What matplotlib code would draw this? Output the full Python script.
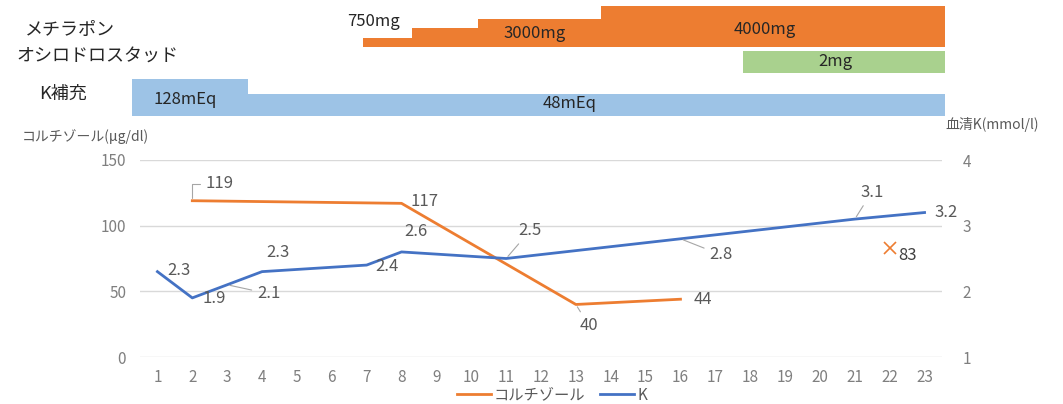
import matplotlib
matplotlib.use("Agg")
import matplotlib.pyplot as plt
import numpy as np

plt.rcParams['font.family'] = ['Noto Sans CJK JP', 'DejaVu Sans']

# --- data ---
days = list(range(1, 24))

cortisol_days = [2, 8, 13, 16]
cortisol_vals = [119, 117, 40, 44]
cortisol_extra_day = [22]
cortisol_extra_val = [83]

k_days = [1, 2, 3, 4, 7, 8, 11, 16, 21, 23]
k_vals = [2.3, 1.9, 2.1, 2.3, 2.4, 2.6, 2.5, 2.8, 3.1, 3.2]

# treatment timeline (day units), step levels are just bar heights
metyrapone_start = [6.9, 8.31, 10.18, 13.71]
metyrapone_end = 23.58
metyrapone_labels = ["750mg", "", "3000mg", "4000mg"]
osilodrostat_start = [17.78]
osilodrostat_end = 23.58
osilodrostat_labels = ["2mg"]
k_sup_start = [0.28, 3.61]
k_sup_end = 23.58
k_sup_labels = ["128mEq", "48mEq"]

ORANGE = '#ED7D31'
BLUE = '#4472C4'
GREEN = '#A9D18E'
LBLUE = '#9DC3E6'
TICK = '#7f7f7f'
LAB = '#595959'

W, H = 1063, 404
fig = plt.figure(figsize=(W / 100, H / 100), dpi=100)


def fx(px):
    return px / W


def fy(py):
    return 1 - py / H


def ftext(px, py, s, **kw):
    fig.text(fx(px), fy(py), s, **kw)


# main chart
ax = fig.add_axes([fx(140), fy(357), fx(942) - fx(140), fy(160) - fy(357)])
ax2 = ax.twinx()

ax.set_xlim(0.5, 23.5)
ax.set_ylim(0, 150)
ax2.set_ylim(1, 4)
ax.set_yticks([0, 50, 100, 150])
ax2.set_yticks([1, 2, 3, 4])
ax.set_xticks(days)
ax.grid(axis='y', color='#d9d9d9', lw=1)
ax.set_axisbelow(True)
for a in (ax, ax2):
    for sp in a.spines.values():
        sp.set_visible(False)
ax.tick_params(axis='both', length=0, labelsize=11, labelcolor=TICK)
ax.tick_params(axis='y', pad=10)
ax.tick_params(axis='x', pad=9)
ax2.tick_params(axis='y', length=0, labelsize=11, labelcolor=TICK, pad=12)
for t in ax2.get_yticklabels():
    t.set_horizontalalignment('center')
ax2.tick_params(axis='y', pad=18)

l1, = ax.plot(cortisol_days, cortisol_vals, color=ORANGE, lw=2, label='コルチゾール')
ax.plot(cortisol_extra_day, cortisol_extra_val, ls='none', marker='x',
        color=ORANGE, ms=8, mew=1.2)
l2, = ax2.plot(k_days, k_vals, color=BLUE, lw=2, label='K')

lead = dict(arrowstyle='-', color='#a6a6a6', lw=0.8, shrinkA=2, shrinkB=2)


def lab(a, x, y, s, dx, dy, ha='left', arrow=None, color=LAB):
    kw = {}
    if arrow is not None:
        kw['arrowprops'] = arrow
    a.annotate(s, xy=(x, y), xytext=(dx, dy), textcoords='offset pixels',
               ha=ha, va='center', fontsize=12, color=color, **kw)


# cortisol labels
c_off = [(13, 17, 'left'), (9, 2, 'left'), (13, -21, 'center'), (13, 0, 'left')]
c_arrow = [dict(lead, connectionstyle='angle,angleA=0,angleB=90,rad=0'), None,
           lead, None]
for d, v, (dx, dy, ha), ar in zip(cortisol_days, cortisol_vals, c_off, c_arrow):
    lab(ax, d, v, str(v), dx, dy, ha, ar)
lab(ax, cortisol_extra_day[0], cortisol_extra_val[0], str(cortisol_extra_val[0]),
    9, -8, 'left', None, '#404040')

# K labels
k_off = [(10, 1, 'left'), (10, -1, 'left'), (30, -9, 'left'), (16, 19, 'center'),
         (9, -1, 'left'), (14, 20, 'center'), (24, 28, 'center'),
         (29, -16, 'left'), (17, 27, 'center'), (10, 0, 'left')]
k_arrow = [None, None, lead, None, None, None, lead, lead, lead, None]
for d, v, (dx, dy, ha), ar in zip(k_days, k_vals, k_off, k_arrow):
    lab(ax2, d, v, f"{v:.1f}", dx, dy, ha, ar)

# axis titles
ftext(22, 137, 'コルチゾール(μg/dl)', fontsize=10, color=LAB, va='center')
ftext(945, 125, '血清K(mmol/l)', fontsize=10, color=LAB, va='center')

fig.legend(handles=[l1, l2], loc='center', bbox_to_anchor=(fx(552), fy(395)),
           ncol=2, frameon=False, fontsize=11, handlelength=2.2,
           columnspacing=1.0, handletextpad=0.2, labelcolor=LAB)

# treatment band
top = fig.add_axes([fx(140), fy(120), fx(942) - fx(140), fy(0) - fy(120)])
top.set_xlim(0.5, 23.5)
top.set_ylim(120, 0)
top.axis('off')

m_tops = [37.7, 27.7, 19, 6]
m_ends = metyrapone_start[1:] + [metyrapone_end]
for s, e, t in zip(metyrapone_start, m_ends, m_tops):
    top.bar(s, 47 - t, width=e - s, bottom=t, align='edge', color=ORANGE,
            clip_on=False, lw=0)
for s in osilodrostat_start:
    top.bar(s, 22, width=osilodrostat_end - s, bottom=50.7, align='edge',
            color=GREEN, clip_on=False, lw=0)
k_tops = [79, 93.5]
k_ends = k_sup_start[1:] + [k_sup_end]
for s, e, t in zip(k_sup_start, k_ends, k_tops):
    top.bar(s, 115.7 - t, width=e - s, bottom=t, align='edge', color=LBLUE,
            clip_on=False, lw=0)

bar_txt = dict(fontsize=12, color='#262626', va='center')
ftext(347, 22, metyrapone_labels[0], ha='left', **bar_txt)
ftext(535, 33, metyrapone_labels[2], ha='center', **bar_txt)
ftext(765, 29, metyrapone_labels[3], ha='center', **bar_txt)
ftext(835, 62, osilodrostat_labels[0], ha='center', **bar_txt)
ftext(153, 100, k_sup_labels[0], ha='left', **bar_txt)
ftext(570, 104, k_sup_labels[1], ha='center', **bar_txt)

row_txt = dict(fontsize=13, color='#262626', va='center', ha='center')
ftext(70, 30, 'メチラポン', **row_txt)
ftext(97, 57, 'オシロドロスタッド', **row_txt)
ftext(63, 94, 'K補充', **row_txt)

fig.savefig('out.png', dpi=100)
